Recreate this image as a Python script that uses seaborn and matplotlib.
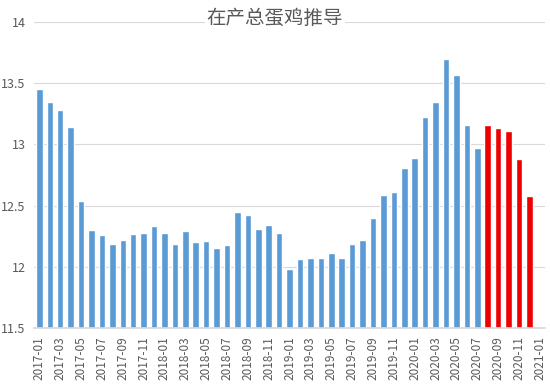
import matplotlib
matplotlib.use("Agg")
import matplotlib.pyplot as plt
import seaborn as sns
import pandas as pd

# ---- data ----
months = [f"{y}-{m:02d}" for y in range(2017, 2021) for m in range(1, 13)] + ["2021-01"]
actual_values = [13.45, 13.35, 13.28, 13.14, 12.54, 12.30, 12.26, 12.19, 12.22, 12.27, 12.28, 12.33,
                 12.28, 12.19, 12.29, 12.20, 12.21, 12.15, 12.18, 12.45, 12.42, 12.31, 12.34, 12.28,
                 11.98, 12.06, 12.07, 12.07, 12.11, 12.07, 12.19, 12.22, 12.40, 12.59, 12.61, 12.81,
                 12.89, 13.22, 13.35, 13.70, 13.57, 13.16, 12.97]
forecast_values = [13.16, 13.13, 13.11, 12.88, 12.58]
yticks = [11.5, 12, 12.5, 13, 13.5, 14]
title = "在产总蛋鸡推导"

values = actual_values + forecast_values
kinds = ["actual"] * len(actual_values) + ["forecast"] * len(forecast_values)
df = pd.DataFrame({"month": months[:len(values)], "value": values, "kind": kinds})

sns.set_theme(style="white")
plt.rcParams["font.family"] = ["Noto Sans CJK SC", "DejaVu Sans"]

fig = plt.figure(figsize=(5.5, 3.85), dpi=100)
ax = fig.add_axes([0.062, 0.148, 0.929, 0.795])

sns.barplot(data=df, x="month", y="value", hue="kind", order=months, dodge=False,
            palette={"actual": "#5B9BD5", "forecast": "#EE0000"}, width=0.62,
            legend=False, ax=ax, saturation=1)

ax.set_ylim(11.5, 14)
ax.set_xlim(-0.5, len(months) - 0.5)
ax.set_yticks(yticks)
ax.set_yticklabels([f"{t:g}" for t in yticks], color="#595959", fontsize=9)
ax.set_xticks(range(0, len(months), 2))
ax.set_xticklabels(months[::2], rotation=90, color="#595959", fontsize=8.5)
ax.tick_params(axis="both", length=0, pad=6)
ax.yaxis.grid(True, color="#D9D9D9", linewidth=0.8)
ax.set_axisbelow(True)
for s in ["top", "right", "left"]:
    ax.spines[s].set_visible(False)
ax.spines["bottom"].set_color("#D9D9D9")
ax.set_xlabel("")
ax.set_ylabel("")

fig.text(0.5, 0.953, title, ha="center", va="center", fontsize=14, color="#595959",
         bbox=dict(facecolor="white", edgecolor="none", pad=1))

fig.savefig("out.png", dpi=100)
